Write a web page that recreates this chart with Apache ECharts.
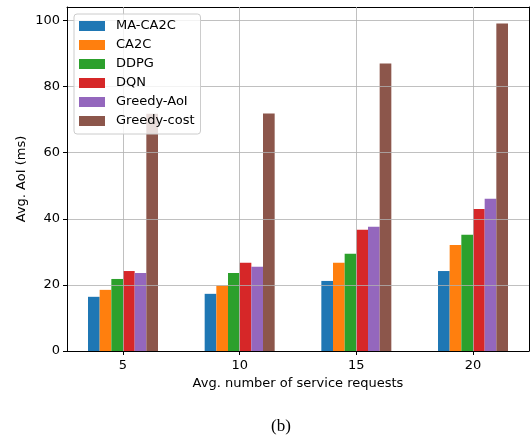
<!DOCTYPE html>
<html>
<head>
<meta charset="utf-8">
<script src="https://cdn.jsdelivr.net/npm/echarts@6/dist/echarts.min.js"></script>
<style>
html,body{margin:0;padding:0;background:#fff;}
#chart{width:532px;height:439px;}
</style>
</head>
<body>
<div id="chart"></div>
<script>
var categories = [5, 10, 15, 20];
var seriesNames = ['MA-CA2C', 'CA2C', 'DDPG', 'DQN', 'Greedy-AoI', 'Greedy-cost'];
var maCa2c     = [16.4, 17.3, 21.2, 24.2];
var ca2c       = [18.5, 19.8, 26.7, 32.1];
var ddpg       = [21.8, 23.6, 29.4, 35.2];
var dqn        = [24.2, 26.7, 36.7, 43.0];
var greedyAoI  = [23.6, 25.5, 37.6, 46.1];
var greedyCost = [71.8, 71.9, 87.0, 99.1];
var yTicks = [0, 20, 40, 60, 80, 100];
var colors = ['#1f77b4', '#ff7f0e', '#2ca02c', '#d62728', '#9467bd', '#8c564b'];

var allValues = [maCa2c, ca2c, ddpg, dqn, greedyAoI, greedyCost];
var font = 'DejaVu Sans';

var series = seriesNames.map(function (name, s) {
  return {
    name: name,
    type: 'bar',
    barWidth: '10%',
    barGap: '0%',
    itemStyle: { color: colors[s] },
    data: categories.map(function (c, i) { return [c, allValues[s][i]]; })
  };
});

var chart = echarts.init(document.getElementById('chart'), null, { renderer: 'canvas' });
chart.setOption({
  animation: false,
  backgroundColor: '#fff',
  textStyle: { fontFamily: font },
  title: {
    text: '(b)',
    left: 276,
    top: 413,
    textAlign: 'center',
    textStyle: { fontFamily: 'Liberation Serif', fontSize: 17, fontWeight: 'normal', color: '#000' }
  },
  grid: { left: 67, right: 3, top: 7, bottom: 88, containLabel: false },
  legend: {
    orient: 'vertical',
    left: 74,
    top: 14,
    z: 20,
    padding: [5, 6, 6, 5],
    itemWidth: 26,
    itemHeight: 10,
    itemGap: 5,
    icon: 'rect',
    backgroundColor: 'rgba(255,255,255,0.8)',
    borderColor: '#cccccc',
    borderWidth: 1,
    borderRadius: 3,
    textStyle: { fontFamily: font, fontSize: 13, lineHeight: 14, color: '#000', padding: [0, 0, 0, 6] },
    data: seriesNames
  },
  xAxis: [{
    type: 'value',
    min: 2.6,
    max: 22.4,
    name: 'Avg. number of service requests',
    nameLocation: 'middle',
    nameGap: 26,
    nameTextStyle: { fontFamily: font, fontSize: 13, color: '#000' },
    axisLine: { show: true, onZero: false, lineStyle: { color: '#000', width: 1 } },
    axisTick: { show: true, length: 4, customValues: categories, lineStyle: { color: '#000' } },
    axisLabel: { customValues: categories, fontFamily: font, fontSize: 13, color: '#000', margin: 8 },
    splitLine: { show: true, lineStyle: { color: 'rgba(176,176,176,0.8)', width: 1 } },
    z: 5
  }, {
    type: 'value',
    position: 'top',
    min: 2.6,
    max: 22.4,
    axisLine: { show: true, onZero: false, lineStyle: { color: '#000', width: 1 } },
    axisTick: { show: false },
    axisLabel: { show: false },
    splitLine: { show: false }
  }],
  yAxis: [{
    type: 'value',
    min: 0,
    max: 104.1,
    name: 'Avg. AoI (ms)',
    nameLocation: 'middle',
    nameGap: 39,
    nameMoveOverlap: false,
    nameTextStyle: { fontFamily: font, fontSize: 13, color: '#000' },
    axisLine: { show: true, onZero: false, lineStyle: { color: '#000', width: 1 } },
    axisTick: { show: true, length: 4, customValues: yTicks, lineStyle: { color: '#000' } },
    axisLabel: { customValues: yTicks, fontFamily: font, fontSize: 13, color: '#000', margin: 7 },
    splitLine: { show: true, lineStyle: { color: 'rgba(176,176,176,0.8)', width: 1 } },
    z: 5
  }, {
    type: 'value',
    position: 'right',
    min: 0,
    max: 104.1,
    axisLine: { show: true, onZero: false, lineStyle: { color: '#000', width: 1 } },
    axisTick: { show: false },
    axisLabel: { show: false },
    splitLine: { show: false }
  }],
  series: series
});
</script>
</body>
</html>
